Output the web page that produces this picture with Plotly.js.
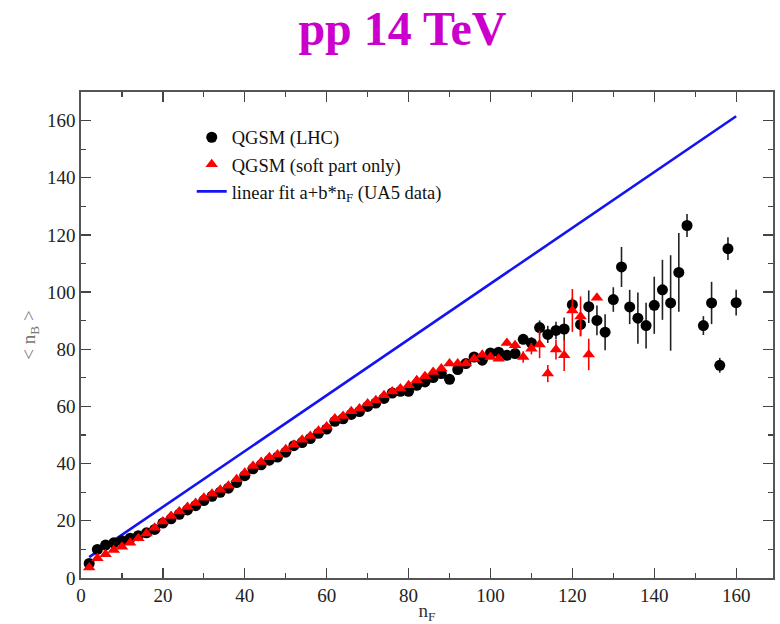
<!DOCTYPE html>
<html>
<head>
<meta charset="utf-8">
<script src="https://cdn.plot.ly/plotly-3.0.1.min.js"></script>
<style>html,body{margin:0;padding:0;background:#fff;}#chart{width:780px;height:624px;}</style>
</head>
<body>
<div id="chart"></div>
<script>
// QGSM (LHC) – black circles
const lhcX = [2,4,6,8,10,12,14,16,18,20,22,24,26,28,30,32,34,36,38,40,42,44,46,48,50,52,54,56,58,60,
  62,64,66,68,70,72,74,76,78,80,82,84,86,88,90,92,94,96,98,100,102,104,106,108,110,112,114,116,118,120,
  122,124,126,128,130,132,134,136,138,140,142,144,146,148,152,154,156,158,160];
const lhcY = [5.1,10,11.5,12.3,13,13.9,14.8,15.8,17,19.2,20.7,22.3,23.8,25.3,27.1,28.6,30,31.4,33.4,35.8,38.2,39.6,41.2,42.3,44,46.3,47.4,48.8,50.6,52.1,
  54.8,55.7,57.2,58.2,60,61.2,62.8,64.7,65.3,65.3,67.4,68.6,70.1,71.5,69.5,72.9,75,77.3,76.2,78.7,79,77.9,78.5,83.5,82.2,87.6,85.2,86.6,87.1,95.6,
  88.7,94.9,90.1,86,97.4,108.8,94.8,90.9,88.3,95.4,100.8,96.2,106.9,123.3,88.3,96.2,74.4,115.2,96.3];
const lhcErr = [0,0,0,0,0,0,0,0,0,0,0,0,0,0,0,0,0,0,0,0,0,0,0,0,0,0,0,0,0,0,
  0,0,0,0,0,0,0,0,0,0,0,0,0,0,0,0,0,0,0,0.8,0.8,1,1,1.5,2,2.5,3,3,4,2.5,
  4,5.7,5.2,6.3,4.3,7,6,9,8,10,10.5,16.7,13.8,4,3.3,7.4,2.6,4,4.5];

// QGSM (soft part only) – red triangles
const softX = [2,4,6,8,10,12,14,16,18,20,22,24,26,28,30,32,34,36,38,40,42,44,46,48,50,52,54,56,58,60,
  62,64,66,68,70,72,74,76,78,80,82,84,86,88,90,92,94,96,98,100,102,104,106,108,110,112,114,116,118,120,122,124,126];
const softY = [3.7,6.9,8.3,9.8,10.9,12.3,13.9,15.6,17.6,19.8,21.7,23.3,24.8,26.2,28.1,29.5,30.9,32.3,34.5,36.8,39.2,40.6,42.2,43.2,45,46.6,48.4,49.7,51.5,53,
  55.8,56.7,58.3,59.3,61,62.2,63.9,65.2,66.3,67.4,69.2,70.6,72.1,73.3,75,75,75,76.7,78.1,77.3,76.7,82.2,81.4,77.3,80.2,81.7,71.5,79.9,77.9,93.6,91.5,78.2,98];
const softErr = [0,0,0,0,0,0,0,0,0,0,0,0,0,0,0,0,0,0,0,0,0,0,0,0,0,0,0,0,0,0,
  0,0,0,0,0,0,0,0,0,0,0,0,0,0,0,0,0,0,0,0,0,1,1.5,2,2,4.8,3,3.5,5.5,7.5,7,5.5,0];

// linear fit a+b*nF (UA5 data)
const fitX = [2,160];
const fitY = [7.3,161.5];

const tickVals = [0,20,40,60,80,100,120,140,160];

const serif = 'Liberation Serif, Times New Roman, serif';

const traces = [
  {x: fitX, y: fitY, type: 'scatter', mode: 'lines', name: 'linear fit a+b*n<sub>F</sub> (UA5 data)',
   line: {color: '#1414f0', width: 2.6}, legendrank: 3},
  {x: lhcX, y: lhcY, type: 'scatter', mode: 'markers', name: 'QGSM (LHC)',
   marker: {symbol: 'circle', size: 11, color: '#000'},
   error_y: {type: 'data', array: lhcErr, visible: true, color: '#222', thickness: 1.6, width: 0},
   legendrank: 1},
  {x: softX, y: softY, type: 'scatter', mode: 'markers', name: 'QGSM (soft part only)',
   marker: {symbol: 'triangle-up', size: 11, color: '#ff0000'},
   error_y: {type: 'data', array: softErr, visible: true, color: '#ff0000', thickness: 1.6, width: 0},
   legendrank: 2}
];

const axisCommon = {
  showgrid: false, zeroline: false, showline: true, linecolor: '#555', linewidth: 1.6,
  mirror: 'ticks', ticks: 'inside', ticklen: 10, tickwidth: 1.3, tickcolor: '#444',
  tickfont: {family: serif, size: 19, color: '#222'},
  minor: {ticks: 'inside', ticklen: 5, tickwidth: 1.2, tickcolor: '#444', dtick: 10, showgrid: false}
};

const layout = {
  width: 780, height: 624,
  margin: {l: 81, r: 7, t: 92, b: 46},
  paper_bgcolor: '#fff', plot_bgcolor: '#fff',
  title: {text: '<b>pp 14 TeV</b>', font: {family: serif, size: 48, color: '#cc00cc'},
          x: 0.516, xanchor: 'center', y: 0.955, yanchor: 'middle', yref: 'container'},
  xaxis: Object.assign({}, axisCommon, {
    range: [0, 169], tickvals: tickVals, ticktext: tickVals.map(String),
    title: {text: 'n<sub>F</sub>', font: {family: serif, size: 19, color: '#333'}, standoff: 4}
  }),
  yaxis: Object.assign({}, axisCommon, {
    range: [0, 170], tickvals: tickVals, ticktext: tickVals.map(String),
    title: {text: '< n<sub>B</sub> >', font: {family: serif, size: 19, color: '#777'}, standoff: 6}
  }),
  legend: {x: 0.16, y: 0.945, xanchor: 'left', yanchor: 'top', bgcolor: 'rgba(0,0,0,0)',
           font: {family: serif, size: 18.5, color: '#111'}, traceorder: 'normal'},
  showlegend: true
};

Plotly.newPlot('chart', traces, layout, {displayModeBar: false, staticPlot: true});
</script>
</body>
</html>
